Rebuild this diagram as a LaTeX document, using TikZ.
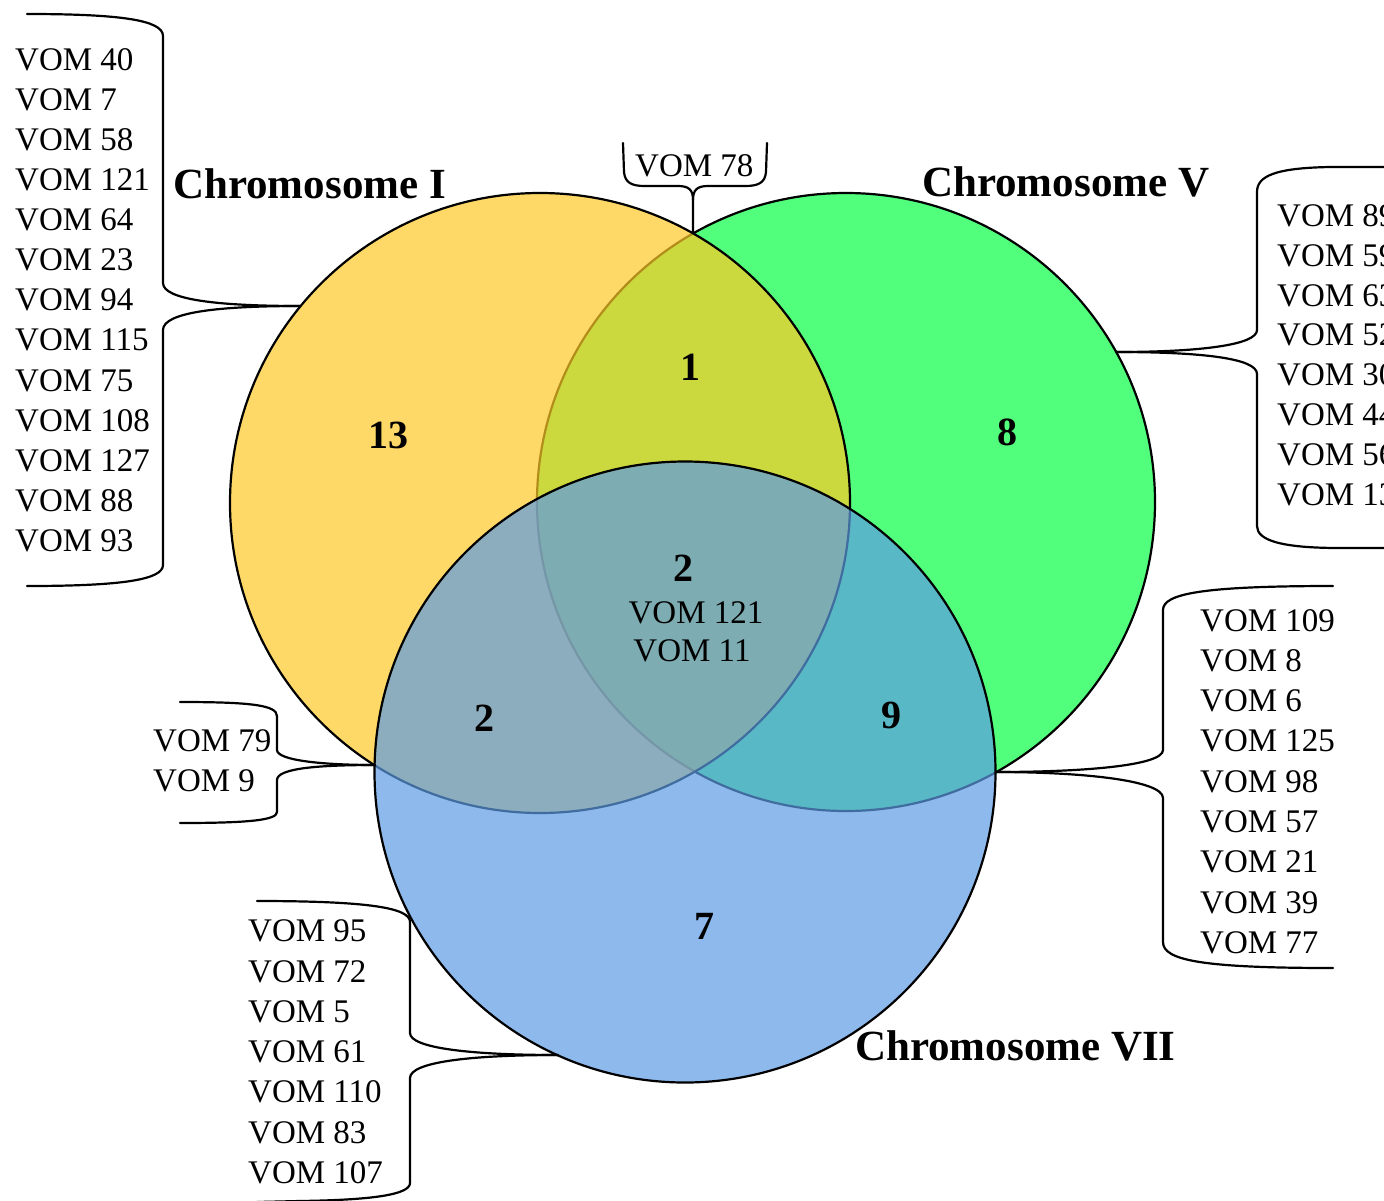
\documentclass[tikz,border=0pt]{standalone}
\usepackage{fontspec}
\setmainfont{Liberation Serif}
\definecolor{cgreen}{RGB}{82,255,124}
\definecolor{cyellow}{RGB}{255,201,38}
\definecolor{cblue}{RGB}{92,155,228}
\begin{document}
\begin{tikzpicture}[x=1pt,y=-1pt,
  vom/.style={font=\fontsize{33}{40}\selectfont, inner sep=0pt, anchor=base west},
  vomc/.style={font=\fontsize{33}{40}\selectfont, inner sep=0pt, anchor=base},
  num/.style={font=\fontsize{40}{48}\selectfont\bfseries, inner sep=0pt, anchor=base},
  chrom/.style={font=\fontsize{43}{50}\selectfont\bfseries, inner sep=0pt, anchor=base west},
  brace/.style={draw=black, line width=2.2pt, line join=round, line cap=round},
  set/.style={draw=black, line width=2.2pt, circle, inner sep=0pt, outer sep=0pt}]
\useasboundingbox (0,0) rectangle (1384,1200);
\clip (0,0) rectangle (1384,1200);

% sets
\node[set, fill=cgreen, minimum size=618pt] (cV) at (846,502) {};
\node[set, fill=cyellow, fill opacity=0.7, minimum size=620pt] (cI) at (540,503) {};
\node[set, fill=cblue, fill opacity=0.7, minimum size=621pt] (cVII) at (685,772) {};

% brace tips (circle intersections / circle edges)
\coordinate (tipI) at (300,306);
\coordinate (tipIVII) at (375,765);
\coordinate (tipIV) at (693,233);
\coordinate (tipV) at (1116,352);
\coordinate (tipVVII) at (996,772);
\coordinate (tipVII) at (558,1055);

% titles
\node[chrom] (tI) at (173,198) {Chromosome I};
\node[chrom] (tV) at (922,196) {Chromosome V};
\node[chrom] (tVII) at (855,1060) {Chromosome VII};

% counts
\node[num] (n13) at (388,448) {13};
\node[num] (n1) at (690,380) {1};
\node[num] (n8) at (1007,445) {8};
\node[num] (n2c) at (683,581.7) {2};
\node[num] (n2l) at (484,731) {2};
\node[num] (n9) at (891,728) {9};
\node[num] (n7) at (704,939) {7};
\node[vomc] (c121) at (696,623.3) {VOM 121};
\node[vomc] (c11) at (692,661.7) {VOM 11};

% lists
\foreach \t [count=\i from 0] in {40,7,58,121,64,23,94,115,75,108,127,88,93}
  \node[vom] (lI\i) at (15,70+40.14*\i) {VOM \t};
\foreach \t [count=\i from 0] in {89,59,63,52,30,44,56,13}
  \node[vom] (lV\i) at (1277,226.7+39.76*\i) {VOM \t};
\foreach \t [count=\i from 0] in {109,8,6,125,98,57,21,39,77}
  \node[vom] (lVVII\i) at (1200,631+40.3*\i) {VOM \t};
\foreach \t [count=\i from 0] in {95,72,5,61,110,83,107}
  \node[vom] (lVII\i) at (248,941.7+40.3*\i) {VOM \t};
\foreach \t [count=\i from 0] in {79,9}
  \node[vom] (lIVII\i) at (153,751.7+40*\i) {VOM \t};
\node[vom] (lIV) at (635,176.7) {VOM 78};

% braces
\draw[brace] (27,14) .. controls (120,14) and (163,20) .. (163,36) -- (163,283)
  .. controls (163,300) and (220,306) .. (tipI);
\draw[brace] (tipI) .. controls (220,306) and (163,312) .. (163,330) -- (163,565)
  .. controls (163,580) and (120,586) .. (27,586);

\draw[brace] (180,702) .. controls (250,702) and (277,705) .. (277,716) -- (277,750)
  .. controls (277,760) and (320,765) .. (tipIVII);
\draw[brace] (tipIVII) .. controls (320,765) and (277,768) .. (277,780) -- (277,812)
  .. controls (277,820) and (250,823) .. (180,823);

\draw[brace] (623,143) -- (624,172) .. controls (625,183) and (632,186) .. (645,186)
  -- (678,186) .. controls (689,186) and (693,190) .. (693,200) -- (tipIV);
\draw[brace] (767,143) -- (766,172) .. controls (765,183) and (758,186) .. (745,186)
  -- (708,186) .. controls (697,186) and (693,190) .. (693,200);

\draw[brace] (1400,167) -- (1330,167) .. controls (1275,168) and (1257,176) .. (1257,192)
  -- (1257,330) .. controls (1257,345) and (1200,352) .. (tipV);
\draw[brace] (tipV) .. controls (1200,352) and (1257,358) .. (1257,374) -- (1257,526)
  .. controls (1257,540) and (1280,548) .. (1340,548) -- (1400,548);

\draw[brace] (1333,586) .. controls (1200,586) and (1163,594) .. (1163,610) -- (1163,750)
  .. controls (1163,766) and (1080,772) .. (tipVVII);
\draw[brace] (tipVVII) .. controls (1080,772) and (1163,780) .. (1163,798) -- (1163,942)
  .. controls (1163,960) and (1200,968) .. (1333,968);

\draw[brace] (257,901) .. controls (370,901) and (410,908) .. (410,922) -- (410,1033)
  .. controls (410,1048) and (470,1055) .. (tipVII);
\draw[brace] (tipVII) .. controls (470,1055) and (410,1062) .. (410,1078) -- (410,1183)
  .. controls (410,1195) and (370,1200) .. (300,1201) -- (257,1202);
\end{tikzpicture}
\end{document}
